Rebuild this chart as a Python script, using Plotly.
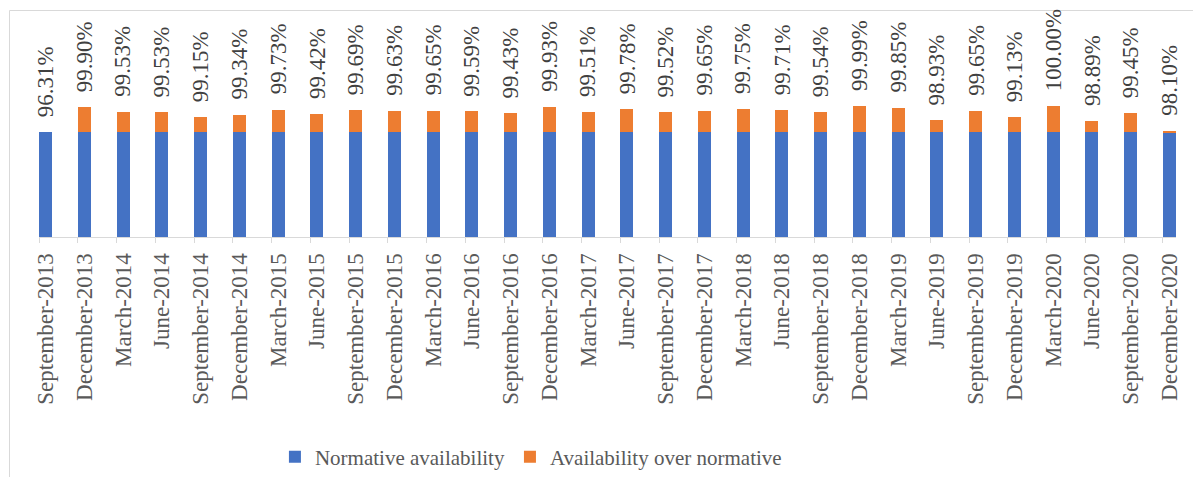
import plotly.graph_objects as go

categories = [
    "September-2013", "December-2013", "March-2014", "June-2014", "September-2014",
    "December-2014", "March-2015", "June-2015", "September-2015", "December-2015",
    "March-2016", "June-2016", "September-2016", "December-2016", "March-2017",
    "June-2017", "September-2017", "December-2017", "March-2018", "June-2018",
    "September-2018", "December-2018", "March-2019", "June-2019", "September-2019",
    "December-2019", "March-2020", "June-2020", "September-2020", "December-2020",
]
total_availability = [
    96.31, 99.90, 99.53, 99.53, 99.15, 99.34, 99.73, 99.42, 99.69, 99.63,
    99.65, 99.59, 99.43, 99.93, 99.51, 99.78, 99.52, 99.65, 99.75, 99.71,
    99.54, 99.99, 99.85, 98.93, 99.65, 99.13, 100.00, 98.89, 99.45, 98.10,
]
normative = [98.0] * 30

over_normative = [max(t - n, 0.0) for t, n in zip(total_availability, normative)]
idx = list(range(len(categories)))

BLUE = "#4472C4"
ORANGE = "#ED7D31"
FONT = "Liberation Serif"
BW = 0.34

fig = go.Figure()
fig.add_trace(go.Bar(x=idx, y=normative, name="Normative availability",
                     marker=dict(color=BLUE, line=dict(width=0)), width=BW))
fig.add_trace(go.Bar(x=idx, y=over_normative, name="Availability over normative",
                     marker=dict(color=ORANGE, line=dict(width=0)), width=BW))
# dummy trace for the tick-mark overlay axis
fig.add_trace(go.Scatter(x=[0], y=[90], xaxis="x2", mode="markers",
                         marker=dict(opacity=0), showlegend=False, hoverinfo="skip"))

for i, (t, n, o) in enumerate(zip(total_availability, normative, over_normative)):
    fig.add_annotation(x=i, y=n + o, text=f"{t:.2f}%", textangle=-90,
                       showarrow=False, xanchor="center", yanchor="bottom", yshift=13,
                       font=dict(family=FONT, size=23, color="#404040"))

xr = [-BW / 2, len(categories) - 1 + BW / 2]

L, R, T, B = 39, 17, 15, 240
pw = 1193 - L - R
ph = 477 - T - B

def px_x(p):
    return (p - L) / pw

def px_y(p):
    return (477 - B - p) / ph

fig.add_shape(type="rect", xref="paper", yref="paper",
              x0=px_x(9.5), x1=px_x(1200), y0=px_y(490), y1=px_y(10.5),
              line=dict(color="#d9d9d9", width=1), fillcolor="rgba(0,0,0,0)", layer="below")

fig.update_layout(
    width=1193, height=477,
    margin=dict(l=L, r=R, t=T, b=B, pad=0, autoexpand=False),
    barmode="stack",
    plot_bgcolor="white", paper_bgcolor="white",
    font=dict(family=FONT, color="#595959"),
    xaxis=dict(range=xr, tickmode="array", tickvals=idx, ticktext=categories,
               tickangle=-90, ticks="", showgrid=False, zeroline=False,
               showline=True, linecolor="#d9d9d9", linewidth=1, automargin=False,
               tickfont=dict(family=FONT, size=23, color="#595959"),
               ticklabelstandoff=6),
    xaxis2=dict(range=xr, overlaying="x", anchor="y", side="bottom", automargin=False,
                tickmode="array", tickvals=[i - BW / 2 for i in idx],
                showticklabels=False, ticks="outside", ticklen=5, tickwidth=1,
                tickcolor="#d9d9d9", showgrid=False, zeroline=False, showline=False),
    yaxis=dict(range=[90, 90 + ph / 13.1], visible=False, showgrid=False,
               zeroline=False, automargin=False),
    legend=dict(orientation="h", traceorder="normal", x=0.2075, xanchor="left",
                y=px_y(457), yanchor="middle",
                font=dict(family=FONT, size=21, color="#595959"),
                bgcolor="rgba(0,0,0,0)"),
    showlegend=True,
)

fig.write_html("out.html", config={"displayModeBar": False},
               post_script="document.body.style.margin='0';document.body.style.overflow='hidden';")
